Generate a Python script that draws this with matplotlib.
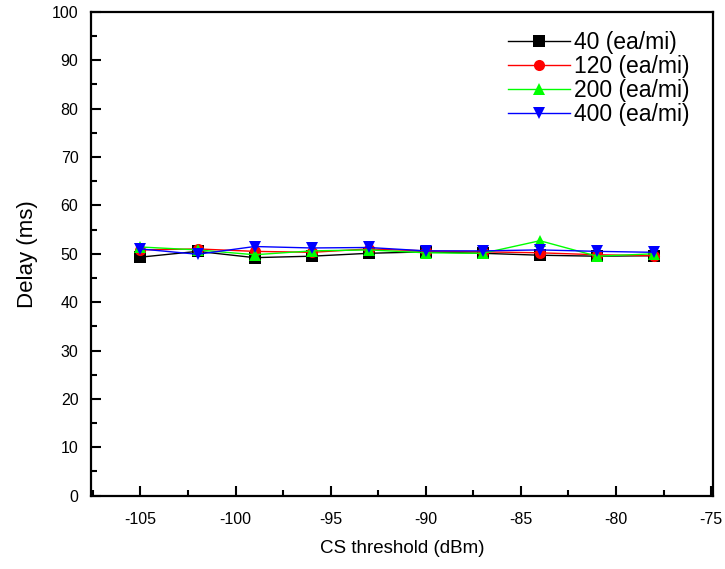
import numpy as np
import matplotlib
matplotlib.use("Agg")
import matplotlib.pyplot as plt
from matplotlib.ticker import MultipleLocator

plt.rcParams['font.family'] = ['Liberation Sans', 'DejaVu Sans']
plt.rcParams['axes.unicode_minus'] = False

threshold = [-105, -102, -99, -96, -93, -90, -87, -84, -81, -78]
delay_40 = [49.3, 50.5, 49.2, 49.5, 50.1, 50.4, 50.1, 49.7, 49.5, 49.6]
delay_120 = [50.8, 51.0, 50.5, 50.3, 51.0, 50.6, 50.4, 50.2, 49.8, 49.6]
delay_200 = [51.4, 50.8, 49.8, 50.6, 50.8, 50.2, 50.1, 52.7, 49.5, 50.0]
delay_400 = [51.0, 49.9, 51.5, 51.2, 51.3, 50.6, 50.6, 50.8, 50.5, 50.3]

series = [
    (delay_40, '#000000', 's', '40 (ea/mi)'),
    (delay_120, '#ff0000', 'o', '120 (ea/mi)'),
    (delay_200, '#00ff00', '^', '200 (ea/mi)'),
    (delay_400, '#0000ff', 'v', '400 (ea/mi)'),
]

fig = plt.figure(figsize=(7.25, 5.69), dpi=100)
ax = fig.add_axes([0.1255, 0.129, 0.858, 0.850])

for vals, c, m, lab in series:
    ax.plot(threshold, vals, color=c, marker=m, markersize=8, linewidth=1.0,
            markeredgewidth=0, label=lab)

ax.set_xlim(-107.6, -74.9)
ax.set_ylim(0, 100)
ax.xaxis.set_major_locator(MultipleLocator(5))
ax.xaxis.set_minor_locator(MultipleLocator(2.5))
ax.yaxis.set_major_locator(MultipleLocator(10))
ax.yaxis.set_minor_locator(MultipleLocator(5))
ax.tick_params(which='both', direction='in', width=1.5, labelsize=11.5)
ax.tick_params(axis='x', pad=12)
ax.tick_params(axis='y', pad=9)
ax.tick_params(which='major', length=7)
ax.tick_params(which='minor', length=4)
for s in ax.spines.values():
    s.set_linewidth(1.6)

ax.set_xlabel('CS threshold (dBm)', fontsize=13.5, labelpad=9)
ax.set_ylabel('Delay (ms)', fontsize=16, labelpad=10)

ax.legend(loc='upper right', bbox_to_anchor=(0.985, 0.99), frameon=False,
          fontsize=16.5, handlelength=2.7, handletextpad=0.2, labelspacing=0.05,
          borderaxespad=0.2)

fig.savefig('out.png', dpi=100)
